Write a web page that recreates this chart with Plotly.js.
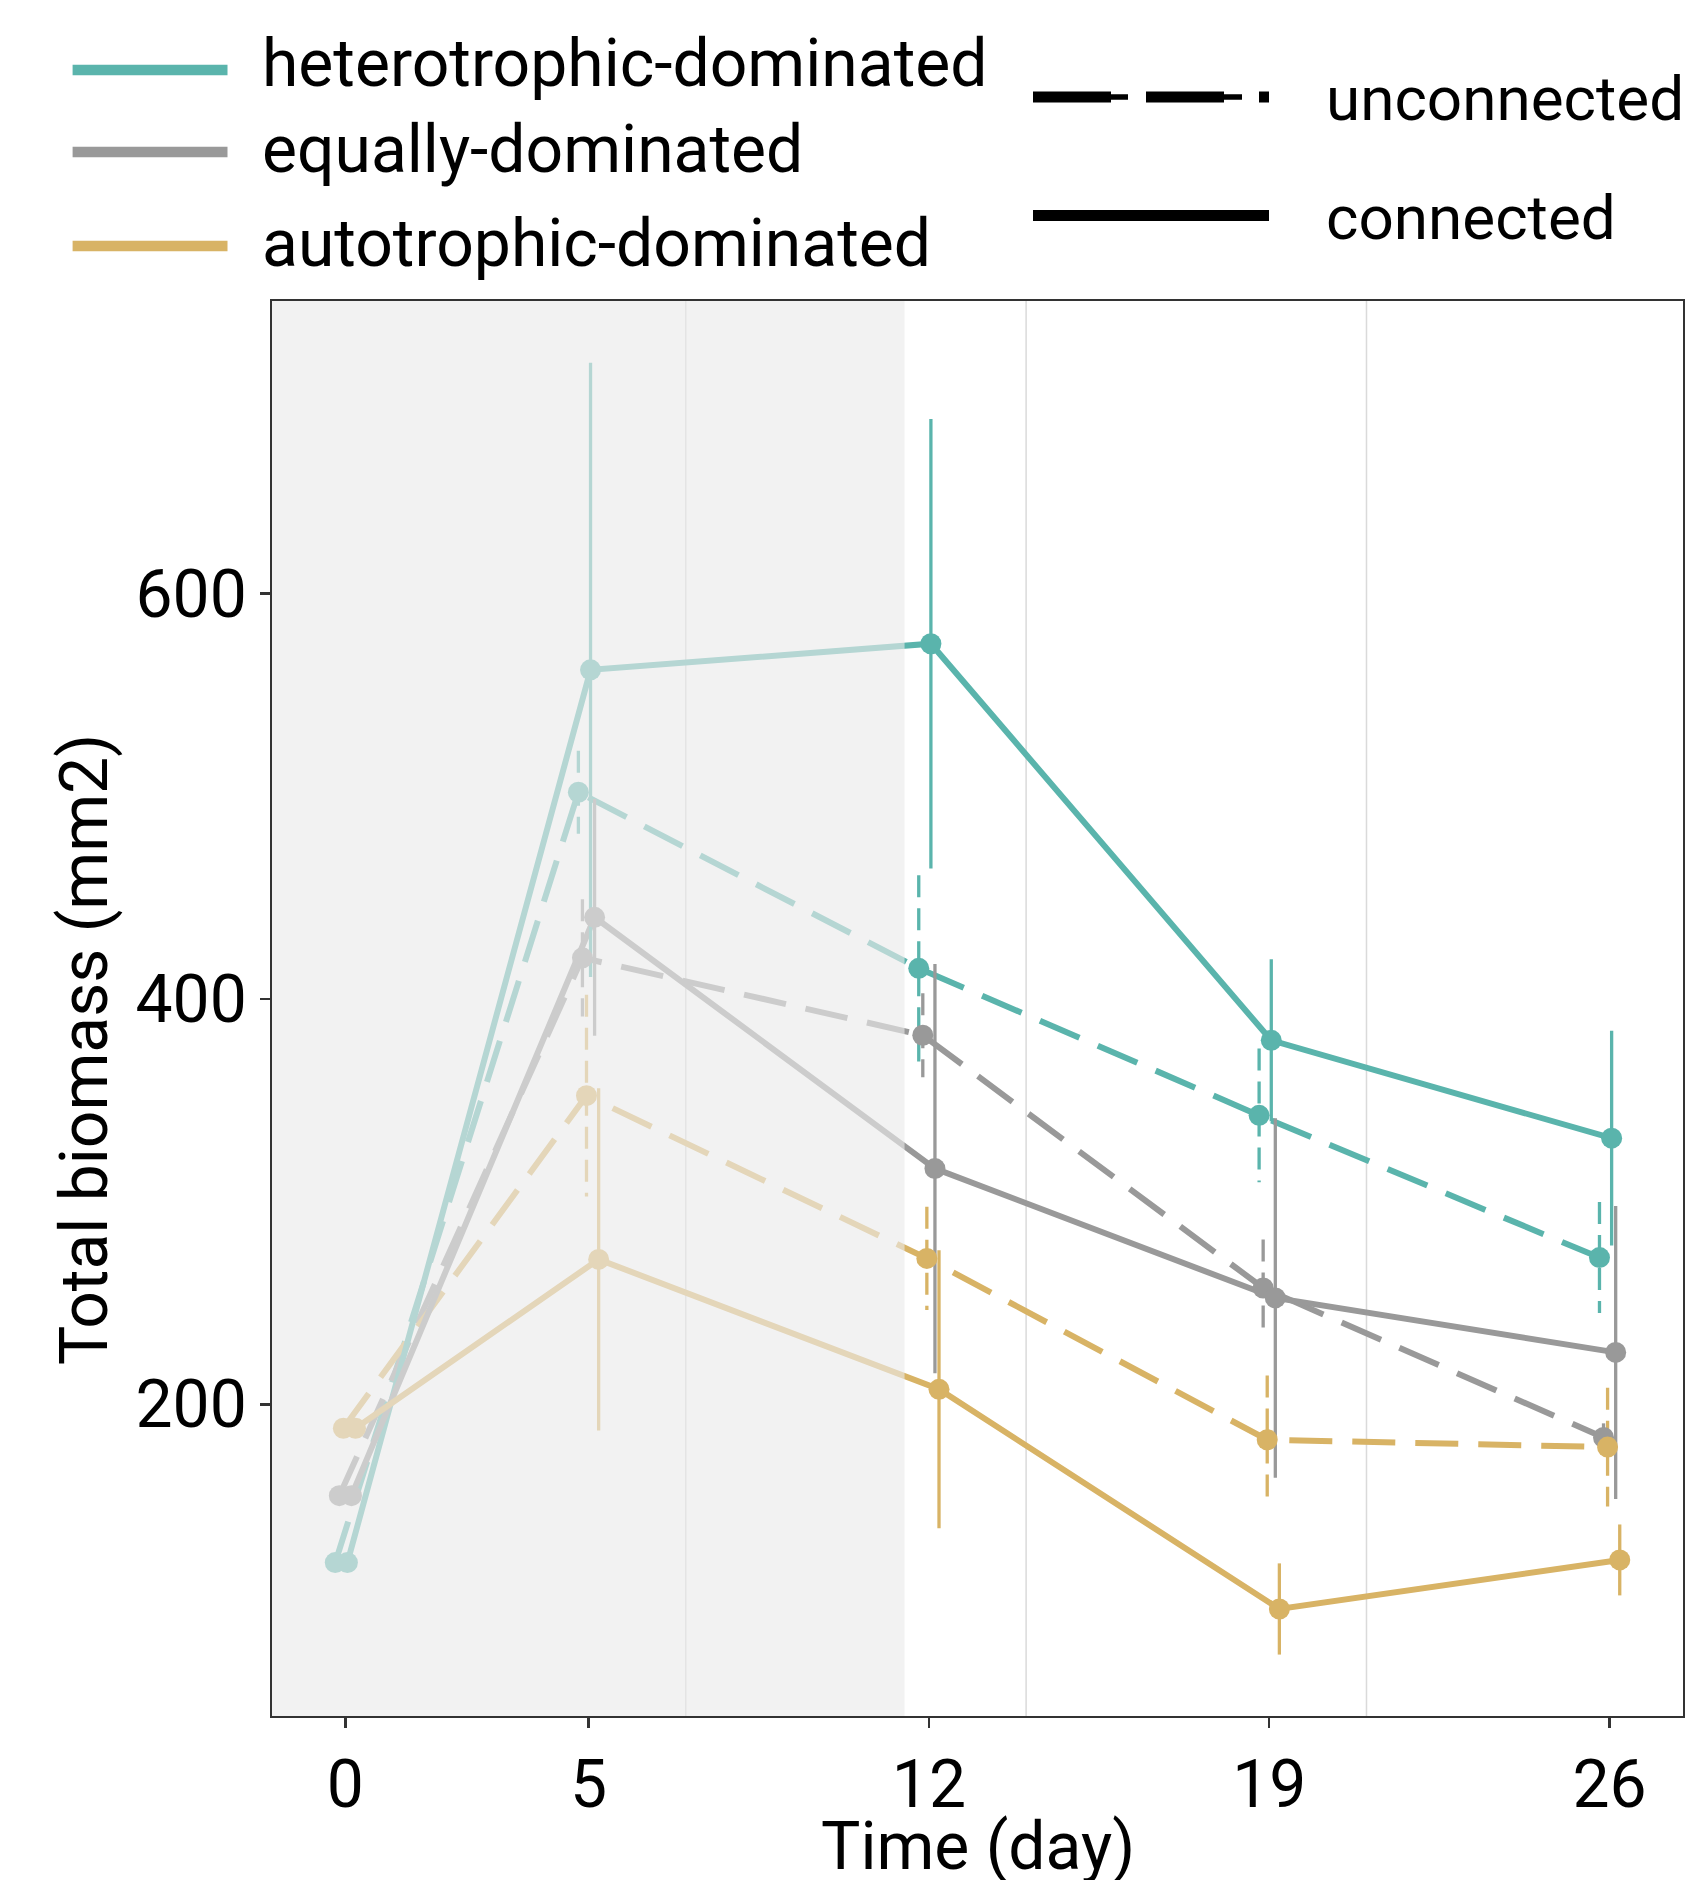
<!DOCTYPE html>
<html>
<head>
<meta charset="utf-8">
<script src="https://cdn.plot.ly/plotly-3.0.1.min.js"></script>
<style>
  html, body { margin: 0; padding: 0; background: #ffffff; }
  #chart { width: 1693px; height: 1880px; }
</style>
</head>
<body>
<div id="chart"></div>
<script>
// Sampling days
const days = [0, 5, 12, 19, 26];
const dayTickLabels = ['0', '5', '12', '19', '26'];
const biomassTicks = [200, 400, 600];

// Mean total biomass (mm2) and standard error, per community type and connectivity
const heteroUnconnected   = [121.9, 502.0, 415.1, 342.6, 272.4];
const heteroUnconnectedSE = [0, 20.5, 46.0, 33.0, 27.4];
const equalUnconnected    = [154.9, 420.3, 382.1, 257.4, 183.6];
const equalUnconnectedSE  = [0, 28.9, 20.7, 23.9, 7.0];
const autoUnconnected     = [188.2, 352.3, 272.0, 182.5, 178.9];
const autoUnconnectedSE   = [0, 49.8, 25.5, 31.7, 29.3];

const heteroConnected     = [121.9, 562.4, 575.3, 379.6, 331.3];
const heteroConnectedSE   = [0, 151.5, 110.9, 40.0, 53.0];
const equalConnected      = [154.9, 440.3, 316.3, 252.5, 225.6];
const equalConnectedSE    = [0, 58.4, 101.0, 88.7, 72.3];
const autoConnected       = [188.2, 271.5, 207.4, 99.0, 123.2];
const autoConnectedSE     = [0, 84.4, 68.6, 22.5, 17.5];

const typeLabels = ['heterotrophic-dominated', 'equally-dominated', 'autotrophic-dominated'];
const connectionLabels = ['unconnected', 'connected'];

const typeColors = ['#5ab4ac', '#999999', '#d8b365'];

// series in dodge order
const series = [
  { mean: heteroUnconnected, se: heteroUnconnectedSE, type: 0, conn: 0 },
  { mean: equalUnconnected,  se: equalUnconnectedSE,  type: 1, conn: 0 },
  { mean: autoUnconnected,   se: autoUnconnectedSE,   type: 2, conn: 0 },
  { mean: heteroConnected,   se: heteroConnectedSE,   type: 0, conn: 1 },
  { mean: equalConnected,    se: equalConnectedSE,    type: 1, conn: 1 },
  { mean: autoConnected,     se: autoConnectedSE,     type: 2, conn: 1 }
];

const DODGE = 0.5;          // total dodge width in days
const LINE_W = 6;
const BAR_W = 3.3;
const MARKER = 21;
const lineDash = ['43px,20px', 'solid'];
const barDash = ['22px,11px', 'solid'];

const dodged = (i) => days.map(d => d + (i - (series.length - 1) / 2) * DODGE / series.length);

const lineTraces = [], barTraces = [], pointTraces = [];
series.forEach((s, i) => {
  const xs = dodged(i);
  const color = typeColors[s.type];
  const name = typeLabels[s.type] + ' / ' + connectionLabels[s.conn];
  lineTraces.push({
    type: 'scatter', mode: 'lines', x: xs, y: s.mean, name: name,
    line: { color: color, width: LINE_W, dash: lineDash[s.conn] },
    hoverinfo: 'skip', showlegend: false
  });
  const bx = [], by = [];
  xs.forEach((x, k) => {
    if (s.se[k] > 0) {
      bx.push(x, x, null);
      by.push(s.mean[k] + s.se[k], s.mean[k] - s.se[k], null);
    }
  });
  barTraces.push({
    type: 'scatter', mode: 'lines', x: bx, y: by, name: name + ' SE',
    line: { color: color, width: BAR_W, dash: barDash[s.conn] },
    hoverinfo: 'skip', showlegend: false
  });
  pointTraces.push({
    type: 'scatter', mode: 'markers', x: xs, y: s.mean, name: name,
    marker: { color: color, size: MARKER, line: { width: 0 } },
    showlegend: false
  });
});

// plot area in pixels
const W = 1693, H = 1880;
const M = { l: 271, r: 9, t: 300, b: 163 };
const PW = W - M.l - M.r, PH = H - M.t - M.b;
const px = (x) => (x - M.l) / PW;
const py = (y) => (M.t + PH - y) / PH;

const shapes = [];
// weekly guide lines
[7, 14, 21].forEach(d => shapes.push({
  type: 'line', xref: 'x', yref: 'paper', x0: d, x1: d, y0: 0, y1: 1,
  line: { color: '#DADADA', width: 1.5 }, layer: 'below'
}));
// shaded first period
shapes.push({
  type: 'rect', xref: 'x', yref: 'paper', x0: -1.53, x1: 11.5, y0: 0, y1: 1,
  fillcolor: 'rgb(234,234,234)', opacity: 0.63, line: { width: 0 }, layer: 'above'
});
// panel border
shapes.push({
  type: 'rect', xref: 'paper', yref: 'paper', x0: 0, x1: 1, y0: 0, y1: 1,
  fillcolor: 'rgba(0,0,0,0)', line: { color: '#333333', width: 2 }, layer: 'above'
});

const annotations = [];

// axis titles
annotations.push({
  xref: 'paper', yref: 'paper', x: px(84), y: py(1050),
  xanchor: 'center', yanchor: 'middle', textangle: -90, showarrow: false,
  text: 'Total biomass (mm2)',
  font: { family: 'Roboto', size: 66, color: '#000000' }
});
annotations.push({
  xref: 'paper', yref: 'paper', x: 0.5, y: py(1846),
  xanchor: 'center', yanchor: 'middle', showarrow: false,
  text: 'Time (day)',
  font: { family: 'Roboto', size: 66, color: '#000000' }
});

// colour key
const keyRows = [70, 152, 246];
const textBase = [86, 171.7, 265.7];
typeLabels.forEach((lab, k) => {
  shapes.push({
    type: 'line', xref: 'paper', yref: 'paper',
    x0: px(72.6), x1: px(227.5), y0: py(keyRows[k]), y1: py(keyRows[k]),
    line: { color: typeColors[k], width: 10.7 }
  });
  annotations.push({
    xref: 'paper', yref: 'paper', x: px(260), y: py(textBase[k] - 22.5),
    xanchor: 'left', yanchor: 'middle', showarrow: false, text: lab,
    font: { family: 'Roboto', size: 66, color: '#000000' }
  });
});

// linetype key
const connRows = [97, 215.5];
const connBase = [119.3, 238.7];
connectionLabels.forEach((lab, k) => {
  const thickDash = k === 0 ? '78px,35px' : 'solid';
  const thinDash = k === 0 ? '38px,19px' : 'solid';
  shapes.push({
    type: 'line', xref: 'paper', yref: 'paper',
    x0: px(1033), x1: px(1269), y0: py(connRows[k]), y1: py(connRows[k]),
    line: { color: '#000000', width: 11, dash: thickDash }
  });
  shapes.push({
    type: 'line', xref: 'paper', yref: 'paper',
    x0: px(1033), x1: px(1269), y0: py(connRows[k]), y1: py(connRows[k]),
    line: { color: '#000000', width: 5.7, dash: thinDash }
  });
  annotations.push({
    xref: 'paper', yref: 'paper', x: px(1324), y: py(connBase[k] - 21.2),
    xanchor: 'left', yanchor: 'middle', showarrow: false, text: lab,
    font: { family: 'Roboto', size: 62, color: '#000000' }
  });
});

const layout = {
  width: W, height: H,
  margin: M,
  paper_bgcolor: '#ffffff', plot_bgcolor: '#ffffff',
  font: { family: 'Roboto', color: '#000000' },
  showlegend: false,
  xaxis: {
    range: [-1.53, 27.53], tickmode: 'array', tickvals: days, ticktext: dayTickLabels,
    showgrid: false, zeroline: false, showline: false,
    ticks: 'outside', ticklen: 10, tickwidth: 2.5, tickcolor: '#333333',
    tickfont: { family: 'Roboto', size: 66, color: '#000000' },
    automargin: false
  },
  yaxis: {
    range: [45.7, 744.9], tickmode: 'array', tickvals: biomassTicks,
    showgrid: false, zeroline: false, showline: false,
    ticks: 'outside', ticklen: 10, tickwidth: 2.5, tickcolor: '#333333',
    tickfont: { family: 'Roboto', size: 66, color: '#000000' },
    automargin: false
  },
  shapes: shapes,
  annotations: annotations
};

Plotly.newPlot('chart', [...lineTraces, ...barTraces, ...pointTraces], layout, { displayModeBar: false, staticPlot: true });
</script>
</body>
</html>
